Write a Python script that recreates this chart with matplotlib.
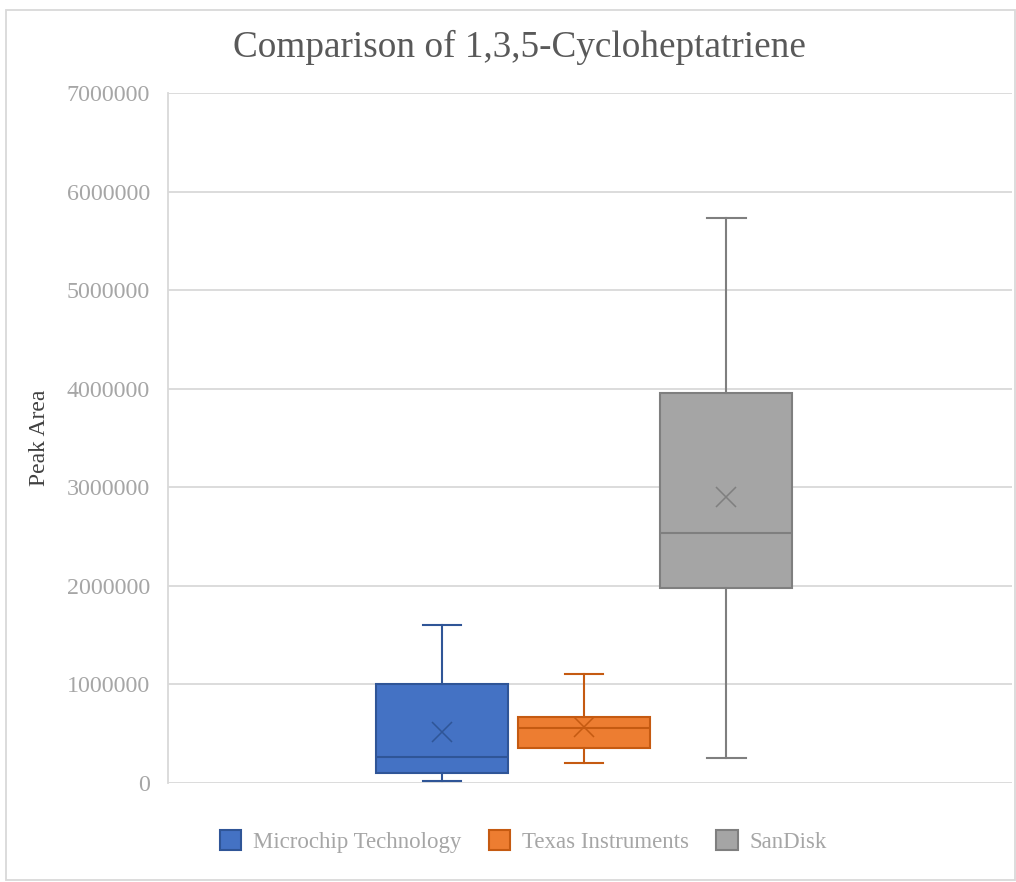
import matplotlib.pyplot as plt
from matplotlib.patches import Patch, Rectangle

plt.rcParams['font.family'] = ['Liberation Serif', 'DejaVu Serif']

# Box statistics (peak area)
series = ['Microchip Technology', 'Texas Instruments', 'SanDisk']
whislo = [20000, 203000, 254000]
q1 = [100000, 355000, 1978000]
median = [264000, 558000, 2536000]
q3 = [1000000, 670000, 3957000]
whishi = [1603000, 1106000, 5730000]
mean = [517000, 568000, 2900000]

fill = ['#4472C4', '#ED7D31', '#A5A5A5']
edge = ['#2F5597', '#C55A11', '#7F7F7F']

fig = plt.figure(figsize=(10.16, 8.82), dpi=100)
ax = fig.add_axes([168/1016, 99/882, (1012-168)/1016, 690/882])

for i in range(3):
    stats = [dict(whislo=whislo[i], q1=q1[i], med=median[i], q3=q3[i],
                  whishi=whishi[i], mean=mean[i], fliers=[], label=series[i])]
    ax.bxp(stats, positions=[i - 1], widths=0.93, patch_artist=True,
           showmeans=True, showfliers=False,
           boxprops=dict(facecolor=fill[i], edgecolor=edge[i], linewidth=1.5),
           medianprops=dict(color=edge[i], linewidth=1.5),
           whiskerprops=dict(color=edge[i], linewidth=1.5),
           capprops=dict(color=edge[i], linewidth=1.5),
           capwidths=0.27,
           meanprops=dict(marker='x', markeredgecolor=edge[i],
                          markersize=14, markeredgewidth=1.1),
           zorder=3)

ax.set_xlim(-2.93, 3.01)
ax.set_ylim(0, 7000000)
ax.set_yticks(range(0, 7000001, 1000000))
ax.set_yticklabels([str(v) for v in range(0, 7000001, 1000000)])
ax.set_xticks([])
ax.yaxis.grid(True, color='#D9D9D9', linewidth=1.3, zorder=0)
ax.set_axisbelow(True)
for s in ['top', 'right', 'bottom']:
    ax.spines[s].set_visible(False)
ax.spines['left'].set_color('#D9D9D9')
ax.spines['left'].set_linewidth(1.3)
ax.tick_params(axis='y', length=0, pad=13, labelsize=17.3, labelcolor='#A6A6A6')

ax.set_ylabel('Peak Area', fontsize=17, color='#404040', labelpad=12)
fig.text(0.511, 0.946, 'Comparison of 1,3,5-Cycloheptatriene', ha='center',
         va='center', fontsize=26.8, color='#595959')

handles = [Patch(facecolor=fill[i], edgecolor=edge[i], linewidth=1.5) for i in range(3)]
leg = fig.legend(handles, series, loc='center', bbox_to_anchor=(0.515, 0.046),
                 ncol=3, frameon=False, fontsize=16.5, handlelength=0.95,
                 handleheight=1.0, handletextpad=0.5, columnspacing=1.2)
for t in leg.get_texts():
    t.set_color('#A6A6A6')

fig.patches.append(Rectangle((6/1016, 2/882), 1009/1016, 870/882, transform=fig.transFigure,
                             fill=False, edgecolor='#D9D9D9', linewidth=1.3))

fig.savefig('out.png', dpi=100)
